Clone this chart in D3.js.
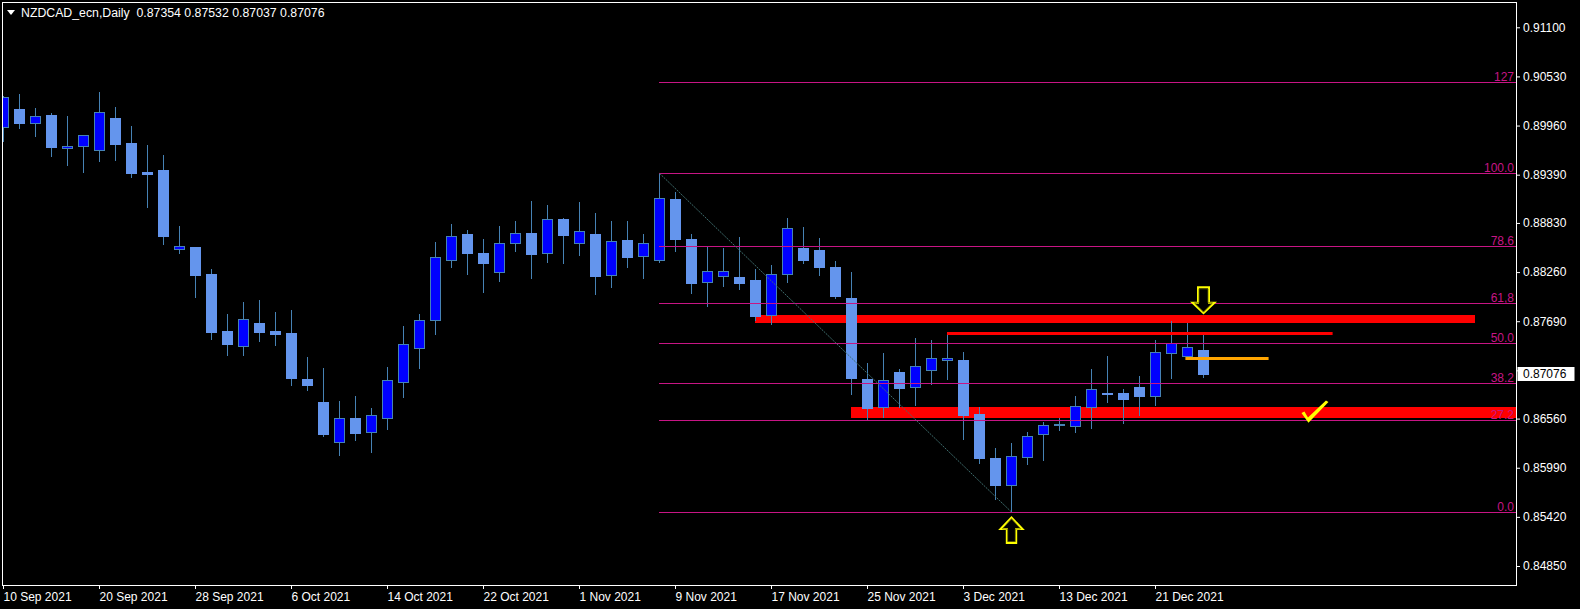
<!DOCTYPE html>
<html><head><meta charset="utf-8">
<script src="https://cdn.jsdelivr.net/npm/d3@7"></script>
<style>html,body{margin:0;padding:0;background:#000;overflow:hidden}svg{display:block}</style>
</head><body><svg id="c" width="1580" height="609"></svg>
<script>
// ---------- DATA ----------
const symbolTitle = "NZDCAD_ecn,Daily";
const dates = [
"2021-09-10","2021-09-13","2021-09-14","2021-09-15","2021-09-16","2021-09-17","2021-09-20","2021-09-21","2021-09-22","2021-09-23",
"2021-09-24","2021-09-27","2021-09-28","2021-09-29","2021-09-30","2021-10-01","2021-10-04","2021-10-05","2021-10-06","2021-10-07",
"2021-10-08","2021-10-11","2021-10-12","2021-10-13","2021-10-14","2021-10-15","2021-10-18","2021-10-19","2021-10-20","2021-10-21",
"2021-10-22","2021-10-25","2021-10-26","2021-10-27","2021-10-28","2021-10-29","2021-11-01","2021-11-02","2021-11-03","2021-11-04",
"2021-11-05","2021-11-08","2021-11-09","2021-11-10","2021-11-11","2021-11-12","2021-11-15","2021-11-16","2021-11-17","2021-11-18",
"2021-11-19","2021-11-22","2021-11-23","2021-11-24","2021-11-25","2021-11-26","2021-11-29","2021-11-30","2021-12-01","2021-12-02",
"2021-12-03","2021-12-06","2021-12-07","2021-12-08","2021-12-09","2021-12-10","2021-12-13","2021-12-14","2021-12-15","2021-12-16",
"2021-12-17","2021-12-20","2021-12-21","2021-12-22","2021-12-23","2021-12-24"];
const opens = [
0.89947,0.90149,0.89987,0.90083,0.89697,0.89720,0.89681,0.90048,0.89758,0.89422,
0.89445,0.88525,0.88552,0.88239,0.87577,0.87407,0.87670,0.87577,0.87554,0.87021,
0.86754,0.86286,0.86568,0.86402,0.86565,0.86982,0.87377,0.87702,0.88398,0.88703,
0.88482,0.88258,0.88595,0.88714,0.88479,0.88877,0.88595,0.88703,0.88224,0.88633,
0.88444,0.88398,0.89105,0.88641,0.88142,0.88212,0.88204,0.88169,0.87760,0.88235,
0.88537,0.88517,0.88320,0.87960,0.87021,0.86692,0.87102,0.86924,0.87122,0.87238,
0.87241,0.86615,0.86104,0.85795,0.86112,0.86383,0.86495,0.86479,0.86699,0.86855,
0.86858,0.86928,0.86827,0.87319,0.87284,0.87354];
const highs = [
0.90303,0.90327,0.90164,0.90106,0.90071,0.89852,0.90350,0.90176,0.89955,0.89735,
0.89619,0.88795,0.88555,0.88297,0.87775,0.87914,0.87937,0.87798,0.87821,0.87276,
0.87148,0.86765,0.86823,0.86684,0.87160,0.87635,0.87775,0.88610,0.88819,0.88749,
0.88645,0.88795,0.88853,0.89085,0.89039,0.88888,0.89074,0.88946,0.88853,0.88853,
0.88703,0.89406,0.89190,0.88703,0.88552,0.88540,0.88668,0.88297,0.88343,0.88885,
0.88784,0.88656,0.88389,0.88262,0.87206,0.87322,0.87137,0.87493,0.87470,0.87551,
0.87334,0.86696,0.86220,0.86278,0.86402,0.86522,0.86568,0.86823,0.87137,0.87287,
0.86905,0.87055,0.87473,0.87693,0.87670,0.87532];
const lows = [
0.89785,0.89936,0.89843,0.89611,0.89507,0.89425,0.89553,0.89565,0.89367,0.89019,
0.88590,0.88486,0.87975,0.87488,0.87303,0.87299,0.87465,0.87419,0.86951,0.86893,
0.86363,0.86143,0.86317,0.86177,0.86444,0.86815,0.87152,0.87546,0.88323,0.88242,
0.88033,0.88161,0.88509,0.88196,0.88381,0.88370,0.88463,0.88010,0.88091,0.88323,
0.88196,0.88381,0.88509,0.88022,0.87871,0.88103,0.88068,0.87709,0.87662,0.88149,
0.88370,0.88231,0.87964,0.86850,0.86560,0.86583,0.86692,0.86723,0.86966,0.87024,
0.86328,0.86050,0.85632,0.85476,0.86038,0.86081,0.86429,0.86406,0.86456,0.86757,
0.86514,0.86603,0.86723,0.87036,0.87276,0.87037];
const closes = [
0.90288,0.89994,0.90068,0.89715,0.89720,0.89848,0.90114,0.89750,0.89414,0.89402,
0.88683,0.88560,0.88231,0.87569,0.87430,0.87717,0.87569,0.87546,0.87032,0.86955,
0.86386,0.86565,0.86398,0.86600,0.87006,0.87423,0.87702,0.88432,0.88676,0.88486,
0.88370,0.88595,0.88711,0.88474,0.88873,0.88695,0.88734,0.88219,0.88618,0.88439,
0.88595,0.89117,0.88645,0.88138,0.88270,0.88270,0.88138,0.87755,0.88235,0.88769,
0.88405,0.88323,0.87987,0.87036,0.86688,0.87006,0.86920,0.87168,0.87261,0.87261,
0.86607,0.86108,0.85795,0.86124,0.86356,0.86484,0.86502,0.86704,0.86901,0.86847,
0.86792,0.86827,0.87330,0.87435,0.87388,0.87076];

const priceTicks = [0.91100,0.90530,0.89960,0.89390,0.88830,0.88260,0.87690,0.87120,0.86560,0.85990,0.85420,0.84850];
const dateTickDates = ["2021-09-10","2021-09-20","2021-09-28","2021-10-06","2021-10-14","2021-10-22","2021-11-01","2021-11-09","2021-11-17","2021-11-25","2021-12-03","2021-12-13","2021-12-21"];
const dateTickLabels = ["10 Sep 2021","20 Sep 2021","28 Sep 2021","6 Oct 2021","14 Oct 2021","22 Oct 2021","1 Nov 2021","9 Nov 2021","17 Nov 2021","25 Nov 2021","3 Dec 2021","13 Dec 2021","21 Dec 2021"];

// Fibonacci retracement (anchored high -> low)
const fibLevels = [0, 27.2, 38.2, 50.0, 61.8, 78.6, 100.0, 127];
const fibLabels = ["0.0","27.2","38.2","50.0","61,8","78.6","100.0","127"];
const fibAnchorBars = [41, 63];
const fibAnchorPrices = [0.89406, 0.85476];

// drawn objects (bar index, price)
const zoneFromBars = [47, 53];
const zoneToBars = [92, 110];
const zoneTops = [0.87763, 0.86696];
const zoneBottoms = [0.87670, 0.86568];
const lineFromBars = [59, 73.9];
const lineToBars = [83.1, 79.1];
const linePrices = [0.87551, 0.87261];
const lineColors = ["#FF0000", "#FFA500"];
const arrowBars = [75, 63];
const arrowPrices = [0.87783, 0.85412];
const arrowDirs = ["down", "up"];
const checkBars = [81.56];
const checkPrices = [0.86522];

// ---------- LAYOUT ----------
const svg = d3.select("#c");
const FONT = "'Liberation Sans', Arial, sans-serif";
const L = 3, R = 1516, T = 3, B = 585;
const y = d3.scaleLinear().domain([0.846295, 0.913935]).range([585, 2]);
const x = d3.scaleLinear().domain([0, dates.length - 1]).range([3, 3 + 16 * (dates.length - 1)]);
const last = closes[closes.length-1];

svg.append("rect").attr("width",1580).attr("height",609).attr("fill","#000");

const defs = svg.append("defs");
defs.append("clipPath").attr("id","plotclip").append("rect")
  .attr("x",L).attr("y",T).attr("width",R-L).attr("height",B-T);

const plot = svg.append("g").attr("clip-path","url(#plotclip)");

// zones (background rectangles)
plot.append("g").selectAll("rect").data(zoneTops).join("rect")
  .attr("x",(d,i)=>x(zoneFromBars[i]))
  .attr("y",(d,i)=>Math.round(y(zoneTops[i])))
  .attr("width",(d,i)=>x(zoneToBars[i])-x(zoneFromBars[i]))
  .attr("height",(d,i)=>Math.round(y(zoneBottoms[i]))-Math.round(y(zoneTops[i])))
  .attr("fill","#FF0000");

// candles
const cg = plot.append("g");
const idx = d3.range(dates.length);
cg.selectAll("line.w").data(idx).join("line").attr("class","w")
  .attr("x1",i=>x(i)+0.5).attr("x2",i=>x(i)+0.5)
  .attr("y1",i=>Math.round(y(highs[i]))).attr("y2",i=>Math.round(y(lows[i]))+1)
  .attr("stroke","#4682B4").attr("stroke-width",1);
cg.selectAll("rect.b").data(idx).join("rect").attr("class","b")
  .attr("x",i=>x(i)-4.5)
  .attr("y",i=>Math.round(y(Math.max(opens[i],closes[i])))+0.5)
  .attr("width",10)
  .attr("height",i=>Math.max(1, Math.round(y(Math.min(opens[i],closes[i])))-Math.round(y(Math.max(opens[i],closes[i])))))
  .attr("fill",i=>closes[i]>=opens[i]?"#0000FF":"#6495ED")
  .attr("stroke",i=>closes[i]>=opens[i]?"#4682B4":"#6495ED")
  .attr("stroke-width",1);

// fibonacci
const fg = plot.append("g");
const fHi = fibAnchorPrices[0], fLo = fibAnchorPrices[1];
const fibPrice = lv => fLo + lv/100*(fHi - fLo);
fg.selectAll("line").data(fibLevels).join("line")
  .attr("x1",x(fibAnchorBars[0])).attr("x2",R)
  .attr("y1",d=>Math.round(y(fibPrice(d)))+0.5).attr("y2",d=>Math.round(y(fibPrice(d)))+0.5)
  .attr("stroke","#C71585").attr("stroke-width",1);
fg.selectAll("text").data(fibLevels).join("text")
  .attr("x",R-2).attr("y",d=>Math.round(y(fibPrice(d)))-1.5)
  .attr("text-anchor","end").attr("fill","#C71585")
  .style("font-family",FONT).style("font-size","12px")
  .text((d,i)=>fibLabels[i]);
fg.append("line")
  .attr("x1",x(fibAnchorBars[0])+0.5).attr("y1",y(fibAnchorPrices[0]))
  .attr("x2",x(fibAnchorBars[1])+0.5).attr("y2",y(fibAnchorPrices[1]))
  .attr("stroke","#3F6E6E").attr("stroke-width",1).attr("stroke-dasharray","2,1");

// horizontal trend lines
plot.append("g").selectAll("line").data(linePrices).join("line")
  .attr("x1",(d,i)=>x(lineFromBars[i])).attr("x2",(d,i)=>x(lineToBars[i]))
  .attr("y1",d=>Math.round(y(d))+0.5).attr("y2",d=>Math.round(y(d))+0.5)
  .attr("stroke",(d,i)=>lineColors[i]).attr("stroke-width",3);

// arrows
const downPts = [[-5.5,-26],[5.5,-26],[5.5,-10.5],[11,-10.5],[0,0],[-11,-10.5],[-5.5,-10.5]];
const upPts = [[0,0],[11,11.5],[4.7,11.5],[4.7,25.5],[-4.7,25.5],[-4.7,11.5],[-11,11.5]];
const ag = plot.append("g");
arrowPrices.forEach((p,i)=>{
  const pts = arrowDirs[i]==="down"?downPts:upPts;
  const g = ag.append("g").attr("transform",`translate(${x(arrowBars[i])+0.5},${y(p)})`);
  g.append("polygon").attr("points",pts.map(q=>q.join(",")).join(" "))
    .attr("fill","#000").attr("stroke","#FFFF00").attr("stroke-width",2).attr("stroke-linejoin","miter");
  g.append("polygon").attr("points",pts.map(q=>[q[0]*0.82,q[1]*0.9+(arrowDirs[i]==="down"?-1:1)].join(",")).join(" "))
    .attr("fill","none").attr("stroke","#6B6B00").attr("stroke-width",0.8);
});
// check marks
const checkPts = [[-6.5,-9],[-3.5,-10.5],[0,-4.5],[18,-21.5],[20.5,-20],[0.5,0.8]];
plot.append("g").selectAll("polygon").data(checkPrices).join("polygon")
  .attr("transform",(d,i)=>`translate(${x(checkBars[i])},${y(d)})`)
  .attr("points",checkPts.map(q=>q.join(",")).join(" "))
  .attr("fill","#FFFF00");

// frame
svg.append("rect").attr("x",2.5).attr("y",2.5).attr("width",R-2).attr("height",B-2)
  .attr("fill","none").attr("stroke","#FFFFFF").attr("stroke-width",1);

// price axis (the label hidden under the current-price box is left blank)
const ly = Math.round(y(last));
const ya = svg.append("g").attr("transform",`translate(${R},0)`)
  .call(d3.axisRight(y).tickValues(priceTicks)
    .tickFormat(d => Math.abs(y(d)-ly) < 10 ? "" : d3.format(".5f")(d))
    .tickSize(4).tickPadding(3));
ya.select(".domain").remove();
ya.selectAll("line").attr("stroke","#FFFFFF");
ya.selectAll("text").attr("fill","#FFFFFF").style("font-family",FONT).style("font-size","12px");

// date axis
const tickIdx = dateTickDates.map(d=>dates.indexOf(d));
const xa = svg.append("g").attr("transform",`translate(0,${B})`)
  .call(d3.axisBottom(x).tickValues(tickIdx).tickFormat((d,i)=>dateTickLabels[i]).tickSize(4).tickPadding(3));
xa.select(".domain").remove();
xa.selectAll("line").attr("stroke","#FFFFFF");
xa.selectAll("text").attr("fill","#FFFFFF").attr("text-anchor","start")
  .style("font-family",FONT).style("font-size","12px");

// current price box
svg.append("rect").attr("x",R+1.5).attr("y",ly-7).attr("width",57).attr("height",14).attr("fill","#FFFFFF");
svg.append("text").attr("x",R+7).attr("y",ly+0.5).attr("dy","0.32em")
  .attr("fill","#000").style("font-family",FONT).style("font-size","12px")
  .text(d3.format(".5f")(last));

// header
svg.append("polygon").attr("points","7,10 15,10 11,15").attr("fill","#FFFFFF");
const n = opens.length-1;
svg.append("text").attr("x",21).attr("y",17).attr("fill","#FFFFFF")
  .style("font-family",FONT).style("font-size","12.3px").style("white-space","pre")
  .text(symbolTitle + "  " + [opens[n],highs[n],lows[n],closes[n]].map(d3.format(".5f")).join(" "));
</script></body></html>
